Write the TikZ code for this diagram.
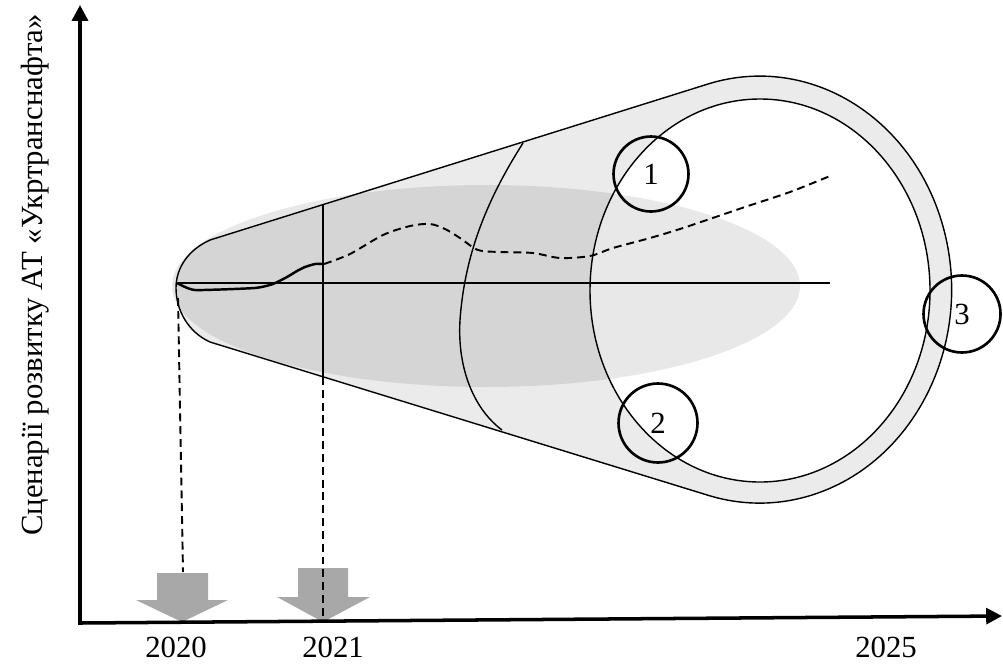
\documentclass[tikz,border=0pt]{standalone}
\usepackage{fontspec}
\setmainfont{Liberation Serif}
\usetikzlibrary{arrows.meta}
\definecolor{conegray}{gray}{0.92}
\definecolor{arrowgray}{gray}{0.66}
\begin{document}
\begin{tikzpicture}[x=0.02cm,y=-0.02cm,
  lbl/.style={font=\fontsize{17.5}{20}\selectfont, inner sep=0pt},
  numcirc/.style={circle, draw=black, line width=1.5pt, inner sep=0pt,
    font=\fontsize{17.5}{20}\selectfont},
  thinline/.style={draw=black, line width=0.8pt},
  dashline/.style={draw=black, line width=1.1pt, dash pattern=on 4.5pt off 2.8pt},
  axisline/.style={draw=black, line width=2pt},
  yeararrow/.style={fill=arrowgray, draw=none}
]
\useasboundingbox (0,0) rectangle (1003,663);

% cone (fill)
\path[fill=conegray] (210,240) -- (708,84)
  arc[start angle=254.4, end angle=465.6, x radius=192, y radius=213.5]
  -- (210,342) .. controls (188,332) and (176,310) .. (176,288)
  .. controls (176,268) and (188,250) .. (210,240) -- cycle;
% inner circle (white)
\path[fill=white] (760,290.5) ellipse[x radius=170, y radius=191.5];
% grey ellipse overlay
\path[fill=black, fill opacity=0.09] (486,286) ellipse[x radius=314, y radius=101];

% outlines
\draw[thinline] (210,240) -- (708,84)
  arc[start angle=254.4, end angle=465.6, x radius=192, y radius=213.5]
  -- (210,342) .. controls (188,332) and (176,310) .. (176,288)
  .. controls (176,268) and (188,250) .. (210,240) -- cycle;
\draw[thinline] (760,290.5) ellipse[x radius=170, y radius=191.5];

% cross-section arc
\draw[thinline] (523,143) .. controls (490,195) and (465,250) .. (460,320)
  .. controls (457,370) and (475,410) .. (502,430);
% vertical line 2021
\coordinate (v21top) at (323,205);
\coordinate (v21bot) at (323,377);
\draw[thinline] (v21top) -- (v21bot);
% central axis
\coordinate (apexc) at (176,283);
\coordinate (axend) at (830,283);
\draw[draw=black, line width=1.2pt] (apexc) -- (axend);

% trend line (solid part)
\draw[draw=black, line width=1.4pt, line join=round] plot[smooth, tension=0.3] coordinates {(177,283) (195,290) (255,288) (273,284) (287,277) (297,271) (305,267) (315,264) (324,264)};
% trend line (dashed part)
\draw[dashline] plot[smooth, tension=0.5] coordinates {(324,264) (350,254) (383,235) (410,226) (430,224) (445,229) (460,238) (478,250) (500,252) (533,253) (560,258) (590,256) (613,248) (650,238) (683,228) (745,207) (790,192) (830,176)};

% numbered circles
\node[numcirc, minimum size=1.50cm] (c1) at (651,174) {1};
\node[numcirc, minimum size=1.58cm] (c2) at (658,423) {2};
\node[numcirc, minimum size=1.54cm] (c3) at (962,314) {3};

% year arrows
\path[yeararrow] (157,573) -- (208,573) -- (208,600) -- (228,600) -- (182,622) -- (136,600) -- (157,600) -- cycle;
\path[yeararrow] (298,568) -- (348,568) -- (348,597) -- (370,597) -- (323,622) -- (277,597) -- (298,597) -- cycle;

% dashed drop lines
\coordinate (apexd) at (178,298);
\coordinate (a1top) at (183,572);
\coordinate (a2tip) at (323,622);
\draw[dashline] (apexd) -- (a1top);
\draw[dashline] (v21bot) -- (a2tip);

% axes
\coordinate (origin) at (80,623);
\coordinate (ytop) at (80,5);
\coordinate (xend) at (1002,616);
\draw[axisline, {Triangle[length=9pt,width=9pt]}-{Triangle[length=9pt,width=9pt]}] (ytop) -- (origin) -- (xend);

% labels
\node[lbl] (y2020) at (176,647) {2020};
\node[lbl] (y2021) at (333,647) {2021};
\node[lbl] (y2025) at (886,647) {2025};
\node[lbl, rotate=90] (ylab) at (35,275) {Сценарії розвитку АТ «Укртранснафта»};
\end{tikzpicture}
\end{document}
